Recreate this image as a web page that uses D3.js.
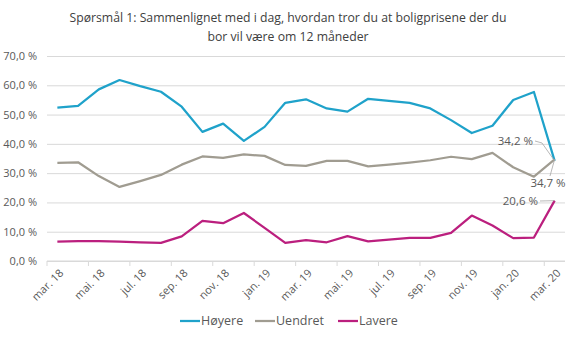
<!DOCTYPE html>
<html>
<head>
<meta charset="utf-8">
<script src="https://cdn.jsdelivr.net/npm/d3@7"></script>
<style>
  body { margin: 0; background: #fff; }
  text { font-family: "Open Sans", sans-serif; fill: #595959; }
</style>
</head>
<body>
<svg id="chart"></svg>
<script>
// months, one per survey
const categories = ["mar. 18","apr. 18","mai. 18","jun. 18","jul. 18","aug. 18","sep. 18","okt. 18","nov. 18","des. 18",
  "jan. 19","feb. 19","mar. 19","apr. 19","mai. 19","jun. 19","jul. 19","aug. 19","sep. 19","okt. 19","nov. 19","des. 19",
  "jan. 20","feb. 20","mar. 20"];

const hoyere  = [52.4, 53.0, 58.6, 61.8, 59.7, 57.8, 52.7, 44.1, 46.9, 41.0, 45.8, 54.0, 55.2, 52.1, 51.0, 55.4, 54.7, 54.0, 52.1, 48.1, 43.7, 46.2, 55.0, 57.7, 34.2];
const uendret = [33.5, 33.7, 29.0, 25.3, 27.3, 29.4, 32.9, 35.7, 35.2, 36.4, 35.9, 32.8, 32.5, 34.2, 34.2, 32.3, 32.9, 33.6, 34.4, 35.6, 34.8, 36.9, 32.0, 28.8, 34.7];
const lavere  = [6.6, 6.8, 6.8, 6.6, 6.4, 6.2, 8.4, 13.7, 12.9, 16.4, 11.3, 6.2, 7.1, 6.4, 8.5, 6.7, 7.3, 7.9, 7.9, 9.6, 15.5, 12.1, 7.8, 8.0, 20.6];

const seriesNames = ["Høyere", "Uendret", "Lavere"];
const seriesColors = ["#1fa2ca", "#a09c91", "#bb1f7e"];
const yTicks = [0, 10, 20, 30, 40, 50, 60, 70];
const titleLines = ["Spørsmål 1: Sammenlignet  med i dag, hvordan tror du at boligprisene  der du", "bor vil være om 12 måneder"];

const series = [hoyere, uendret, lavere].map((values, i) => ({name: seriesNames[i], color: seriesColors[i], values}));

const width = 577, height = 338;
const margin = {top: 56, right: 12, bottom: 77, left: 47};

const svg = d3.select("#chart").attr("width", width).attr("height", height);

const x = d3.scaleBand().domain(categories).range([margin.left, width - margin.right]).padding(0);
const y = d3.scaleLinear().domain([0, 70]).range([height - margin.bottom, margin.top]);
const cx = d => x(d) + x.bandwidth() / 2;
const fmt = v => d3.format(".1f")(v).replace(".", ",") + " %";

// title
svg.append("g").selectAll("text").data(titleLines).join("text")
  .attr("x", 288).attr("y", (d, i) => 22 + i * 19)
  .attr("text-anchor", "middle")
  .attr("font-size", 13.5)
  .attr("textLength", (d, i) => i === 0 ? 437 : 161)
  .attr("lengthAdjust", "spacingAndGlyphs")
  .style("fill", "#404040")
  .text(d => d);

// gridlines + y labels
const yAxis = d3.axisLeft(y).tickValues(yTicks).tickFormat(fmt)
  .tickSize(-(width - margin.right - margin.left)).tickPadding(10);
const yg = svg.append("g").attr("transform", `translate(${margin.left},0)`).call(yAxis);
yg.select(".domain").remove();
yg.selectAll(".tick line").attr("stroke", "#d9d9d9");
yg.selectAll(".tick text").attr("font-size", 11).attr("font-family", "Open Sans").style("fill", "#595959");

// x axis: ticks between every second month
const xg = svg.append("g").attr("transform", `translate(0,${y(0)})`);
xg.append("line").attr("x1", margin.left).attr("x2", width - margin.right).attr("stroke", "#d9d9d9");
xg.selectAll(".xt").data(categories.filter((d, i) => i % 2 === 0)).join("line")
  .attr("class", "xt")
  .attr("x1", d => x(d)).attr("x2", d => x(d)).attr("y1", 0).attr("y2", 5)
  .attr("stroke", "#d9d9d9");
xg.selectAll(".xl").data(categories.filter((d, i) => i % 2 === 0)).join("text")
  .attr("class", "xl")
  .attr("transform", d => `translate(${cx(d) + 4},10) rotate(-45)`)
  .attr("text-anchor", "end")
  .attr("dy", "0.35em")
  .attr("font-size", 11)
  .text(d => d);

// lines
const line = d3.line().x((v, i) => cx(categories[i])).y(v => y(v));
svg.append("g").selectAll("path").data(series).join("path")
  .attr("d", d => line(d.values))
  .attr("fill", "none")
  .attr("stroke", d => d.color)
  .attr("stroke-width", 2.25)
  .attr("stroke-linejoin", "round");

// end labels with leader lines
const last = categories.length - 1;
const px = cx(categories[last]);
const labels = [
  {v: hoyere[last], tx: 533, ty: 141, path: [[535, 141], [542, 143], [px, y(hoyere[last])]], anchor: "end"},
  {v: uendret[last], tx: 548, ty: 183, path: [[px, y(uendret[last])], [550, 176]], anchor: "middle"},
  {v: lavere[last], tx: 538, ty: 201, path: [[540, 201], [px, y(lavere[last])]], anchor: "end"}
];
const lg = svg.append("g");
lg.selectAll("path").data(labels).join("path")
  .attr("d", d => d3.line()(d.path))
  .attr("fill", "none").attr("stroke", "#a6a6a6").attr("stroke-width", 0.8);
lg.selectAll("text").data(labels).join("text")
  .attr("x", d => d.tx).attr("y", d => d.ty).attr("dy", "0.35em")
  .attr("text-anchor", d => d.anchor)
  .attr("font-size", 11.5)
  .text(d => fmt(d.v));

// legend
const legendX = [180, 255, 338];
const leg = svg.append("g").selectAll("g").data(series).join("g")
  .attr("transform", (d, i) => `translate(${legendX[i]},321)`);
leg.append("line").attr("x1", 0).attr("x2", 20).attr("stroke", d => d.color).attr("stroke-width", 2.25);
leg.append("text").attr("x", 21).attr("dy", "0.35em").attr("font-size", 12.5).text(d => d.name);
</script>
</body>
</html>
